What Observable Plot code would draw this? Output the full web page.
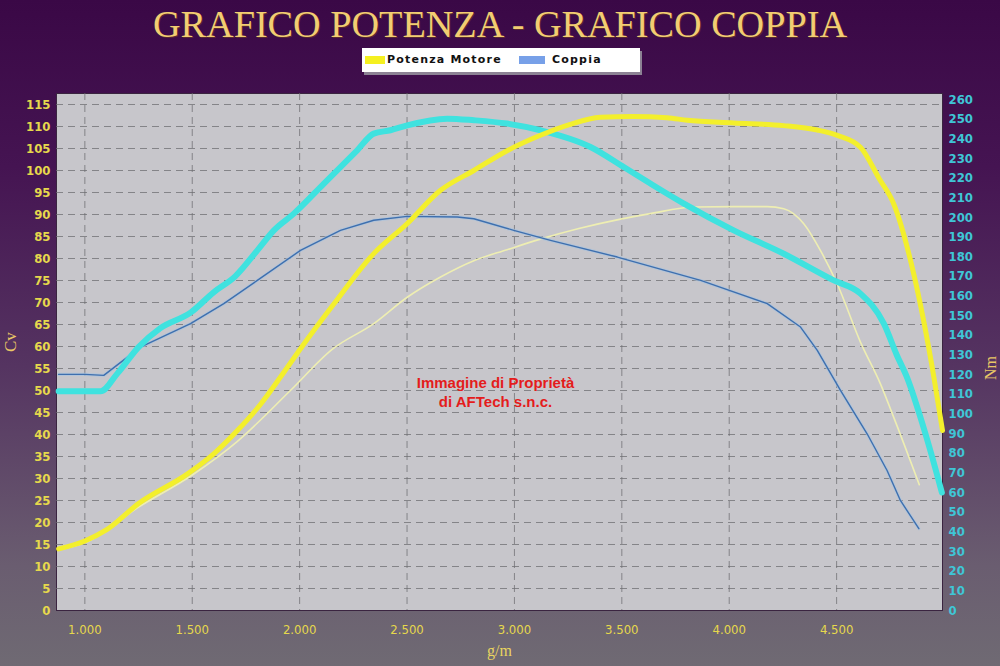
<!DOCTYPE html>
<html>
<head>
<meta charset="utf-8">
<script src="https://cdn.jsdelivr.net/npm/d3@7"></script>
<script src="https://cdn.jsdelivr.net/npm/@observablehq/plot@0.6"></script>
<style>
  html, body { margin: 0; padding: 0; }
  body {
    width: 1000px; height: 666px; overflow: hidden;
    background: linear-gradient(180deg, #3a0846 0%, #451452 25%, #553461 55%, #6a5d70 85%, #6f6a73 100%);
  }
  #header { position: relative; width: 1000px; height: 80px; }
  #title {
    position: absolute; top: 4px; left: 500px; white-space: nowrap;
    font-family: "Liberation Serif", "DejaVu Serif", serif; font-size: 38px; line-height: 40px;
    color: #f2cd72; text-shadow: 1px 1px 0 #5a2a30;
    transform-origin: 0 0;
  }
  #legend {
    position: absolute; left: 362px; top: 48px; width: 278px; height: 24px;
    background: #ffffff; box-shadow: 2px 3px 0 #8c8294;
    font-family: "DejaVu Sans", sans-serif; font-weight: bold; font-size: 11px; letter-spacing: 1.2px;
    color: #111;
  }
  .sw { position: absolute; top: 8px; height: 8px; }
  .lt { position: absolute; top: 5px; line-height: 14px; }
</style>
</head>
<body>
<div id="header">
  <div id="title">GRAFICO POTENZA - GRAFICO COPPIA</div>
  <div id="legend">
    <div class="sw" style="left:3px;width:20px;background:#f5f020"></div>
    <div class="lt" style="left:25px">Potenza Motore</div>
    <div class="sw" style="left:157px;width:26px;background:#77a0e8"></div>
    <div class="lt" style="left:190px">Coppia</div>
  </div>
</div>
<div id="chart"></div>
<script>
// ---- Data ----
const rpmPower = [878, 1000, 1100, 1250, 1480, 1600, 1710, 1820, 1910, 2004, 2160, 2345, 2500, 2656, 2811, 2966, 3121, 3260, 3400, 3550, 3711, 3805, 4021, 4254, 4410, 4503, 4611, 4700, 4766, 4859, 4953, 4993];
const powerCv  = [14.0, 15.8, 18.3, 24.3, 31.1, 35.6, 40.9, 47.0, 53.0, 59.5, 69.7, 81.1, 87.9, 95.5, 100.0, 104.5, 108.0, 110.5, 112.1, 112.3, 112.0, 111.4, 110.8, 110.2, 109.2, 108.0, 105.3, 98.0, 92.4, 76.5, 53.0, 40.9];

const rpmPower2 = [878, 1000, 1250, 1500, 1709, 1957, 2150, 2345, 2501, 2656, 2811, 2966, 3121, 3300, 3500, 3633, 3835, 4021, 4177, 4254, 4347, 4425, 4503, 4611, 4704, 4766, 4885];
const power2Cv  = [13.8, 15.4, 23.5, 30.8, 38.4, 50.0, 59.3, 65.2, 71.2, 75.8, 79.5, 82.0, 84.4, 86.8, 89.0, 90.2, 91.7, 91.8, 91.8, 91.3, 87.9, 81.8, 74.2, 61.0, 51.5, 43.9, 28.6];

const rpmTorque = [878, 1000, 1073, 1151, 1250, 1350, 1492, 1601, 1700, 1803, 1880, 1973, 2113, 2268, 2345, 2423, 2501, 2687, 2811, 2966, 3121, 3354, 3509, 3633, 3789, 4021, 4254, 4487, 4611, 4720, 4780, 4830, 4890, 4940, 4990];
const torqueNm  = [111.5, 111.5, 111.5, 120.5, 134.0, 143.5, 151.5, 162.0, 170.0, 183.2, 193.4, 201.9, 217.2, 234.1, 242.6, 244.3, 246.8, 250.2, 249.4, 247.7, 244.3, 235.8, 225.6, 217.2, 207.0, 193.4, 181.5, 167.9, 161.2, 145.9, 130.0, 118.0, 98.4, 80.0, 60.0];

const rpmTorque2 = [878, 1000, 1088, 1259, 1492, 1647, 1803, 2004, 2190, 2345, 2501, 2734, 2811, 2997, 3168, 3479, 3867, 4177, 4332, 4410, 4518, 4642, 4735, 4797, 4883];
const torque2Nm  = [120.1, 120.1, 119.6, 134.0, 145.9, 156.1, 167.9, 183.2, 193.4, 198.5, 200.5, 200.2, 199.3, 193.4, 188.3, 179.8, 167.9, 156.1, 144.2, 132.3, 112.0, 89.9, 71.2, 56.0, 41.6];

const leftTicks  = [0, 5, 10, 15, 20, 25, 30, 35, 40, 45, 50, 55, 60, 65, 70, 75, 80, 85, 90, 95, 100, 105, 110, 115];
const rightTicks = [0, 10, 20, 30, 40, 50, 60, 70, 80, 90, 100, 110, 120, 130, 140, 150, 160, 170, 180, 190, 200, 210, 220, 230, 240, 250, 260];
const xTicks     = [1000, 1500, 2000, 2500, 3000, 3500, 4000, 4500];
const watermark  = ["Immagine di Proprietà\ndi AFTech s.n.c."];

// ---- Build tables ----
const K = 117.5 / 263; // Nm -> left-axis (Cv) units
const power  = rpmPower.map((r, i) => ({rpm: r, v: powerCv[i]}));
const power2 = rpmPower2.map((r, i) => ({rpm: r, v: power2Cv[i]}));
const torque = rpmTorque.map((r, i) => ({rpm: r, v: torqueNm[i] * K}));
const torque2 = rpmTorque2.map((r, i) => ({rpm: r, v: torque2Nm[i] * K}));

const tickFont = "'Liberation Sans Narrow', 'DejaVu Sans Condensed', Arial, sans-serif";
const serif = "'Liberation Serif', 'DejaVu Serif', serif";

const chart = Plot.plot({
  width: 1000,
  height: 586,
  marginTop: 13,
  marginBottom: 56,
  marginLeft: 56,
  marginRight: 58,
  style: {background: "transparent", overflow: "visible"},
  x: {domain: [868, 4993]},
  y: {domain: [0, 117.5]},
  marks: [
    Plot.frame({fill: "#c7c6cb", stroke: "#3a2440", strokeWidth: 1}),
    Plot.gridY(leftTicks.filter(d => d > 0), {stroke: "#6e6e72", strokeOpacity: 0.75, strokeDasharray: "7,5"}),
    Plot.gridX(xTicks, {stroke: "#6e6e72", strokeOpacity: 0.75, strokeDasharray: "7,5"}),
    Plot.axisY(leftTicks, {anchor: "left", tickSize: 0, tickPadding: 6, label: null, fill: "#e6d84c", fontSize: 13, fontFamily: tickFont, fontWeight: "bold"}),
    Plot.axisY(rightTicks.map(t => t * K), {anchor: "right", tickSize: 0, tickPadding: 6, label: null, fill: "#3fc6d6", fontSize: 13, fontFamily: tickFont, fontWeight: "bold", tickFormat: d => String(Math.round(d / K))}),
    Plot.axisX(xTicks, {anchor: "bottom", tickSize: 0, tickPadding: 14, label: null, fill: "#e6d84c", fontSize: 13, fontFamily: tickFont, tickFormat: d => (d / 1000).toFixed(3)}),
    Plot.text(["Cv"], {frameAnchor: "left", dx: -46, rotate: -90, fill: "#e9c766", fontSize: 17, fontFamily: serif}),
    Plot.text(["Nm"], {frameAnchor: "right", dx: 48, dy: 4, rotate: -90, fill: "#e9c766", fontSize: 16, fontFamily: serif}),
    Plot.text(["g/m"], {frameAnchor: "bottom", dy: 45, fill: "#e9d460", fontSize: 16, fontFamily: serif}),
    Plot.text(watermark, {frameAnchor: "middle", dx: -4, dy: 39, fill: "#e41c1c", fontSize: 15, fontWeight: "bold", fontFamily: "'Liberation Sans', Arial, sans-serif", lineHeight: 1.3}),
    // thin curves
    Plot.line(power2, {x: "rpm", y: "v", stroke: "#eeeeb2", strokeWidth: 1.6, curve: "monotone-x"}),
    Plot.line(torque2, {x: "rpm", y: "v", stroke: "#a9c3de", strokeWidth: 3.2, strokeOpacity: 0.7, curve: "linear"}),
    Plot.line(torque2, {x: "rpm", y: "v", stroke: "#3e6fae", strokeWidth: 1.4, curve: "linear"}),
    // thick curves
    Plot.line(torque, {x: "rpm", y: "v", stroke: "#3fe2df", strokeWidth: 6, curve: "monotone-x"}),
    Plot.line(power, {x: "rpm", y: "v", stroke: "#f3ef2c", strokeWidth: 5, curve: "monotone-x"})
  ]
});
document.getElementById("chart").appendChild(chart);

// fit title width to the reference (about 694px wide, centred)
const t = document.getElementById("title");
const w = t.getBoundingClientRect().width;
const s = 694 / w;
t.style.transform = `translateX(${-347}px) scaleX(${s})`;
</script>
</body>
</html>
